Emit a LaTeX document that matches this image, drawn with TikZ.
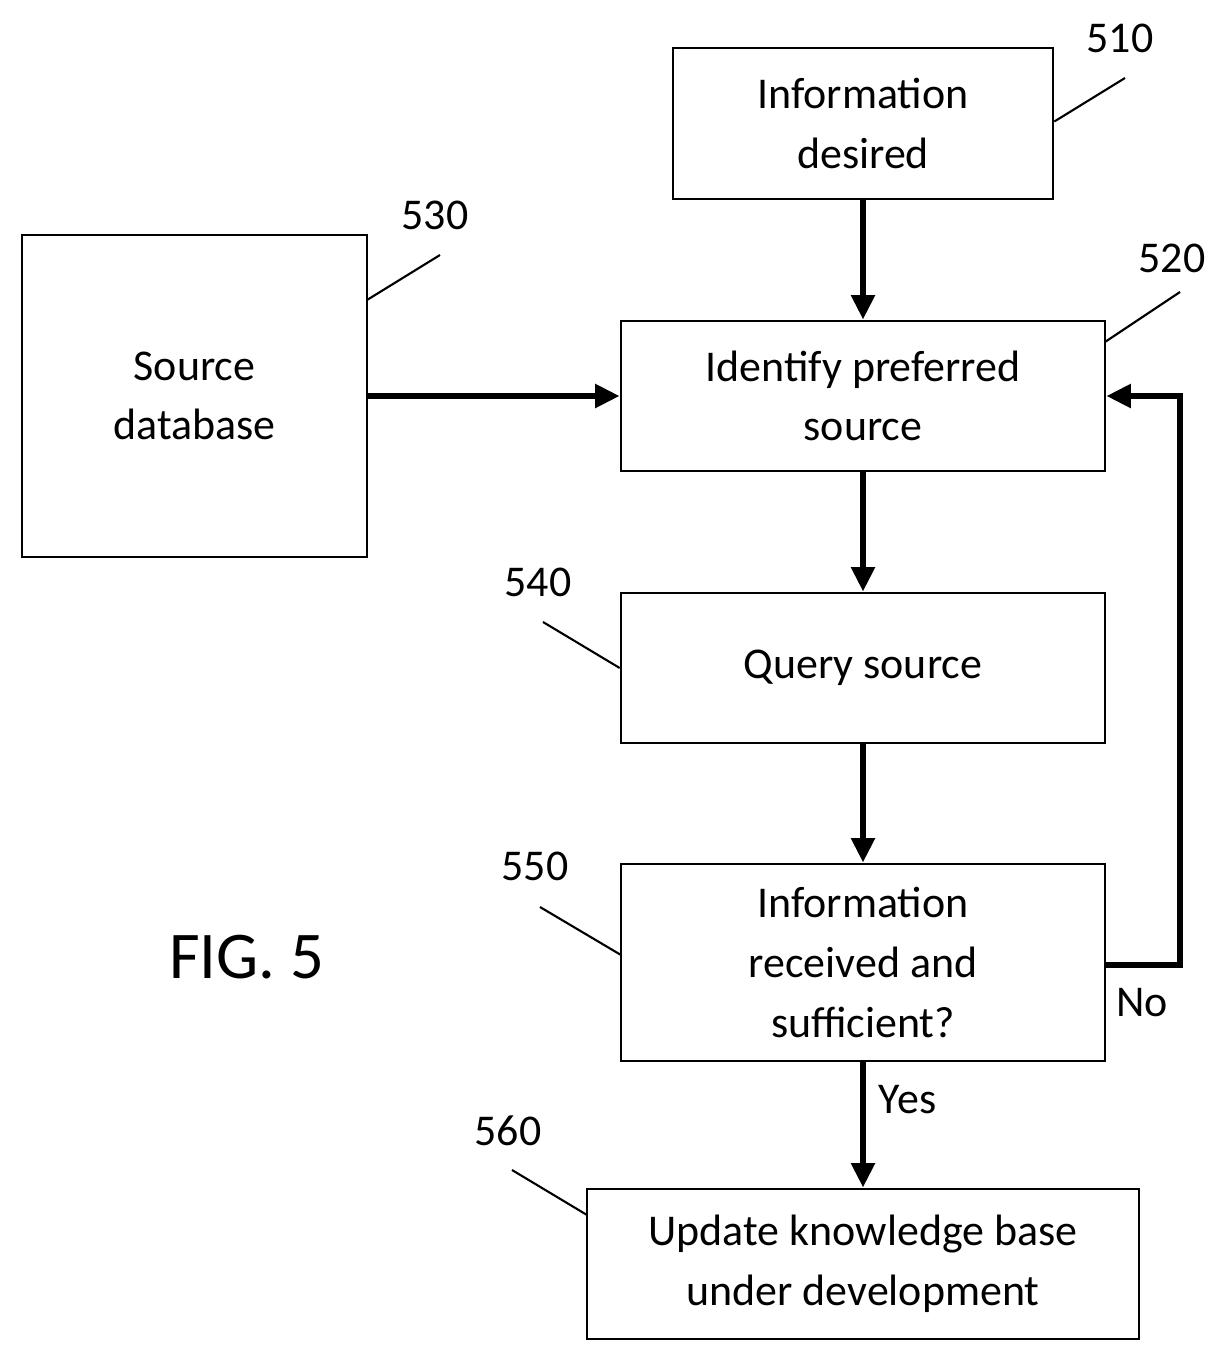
\documentclass[tikz,border=0pt]{standalone}
\usepackage{fontspec}
\setmainfont{Carlito}
\usetikzlibrary{arrows.meta, positioning}

\begin{document}
\begin{tikzpicture}[x=0.02cm, y=-0.02cm,
    box/.style={draw, line width=1.6pt, align=center, font=\fontsize{25}{34}\selectfont, inner sep=0pt},
    flow/.style={-{Triangle[length=14pt,width=13pt]}, line width=3.4pt},
    refnum/.style={font=\fontsize{25}{30}\selectfont},
    lead/.style={line width=1.2pt}]
    \useasboundingbox (0,0) rectangle (1230,1363);

    \node[box, minimum width=7.6cm, minimum height=3.02cm] (info) at (863,123.5) {Information\\desired};
    \node[box, minimum width=9.68cm, minimum height=3cm] (ident) at (863,396) {Identify preferred\\source};
    \node[box, minimum width=6.9cm, minimum height=6.44cm] (db) at (194.5,396) {Source\\database};
    \node[box, minimum width=9.68cm, minimum height=3cm] (query) at (863,668) {Query source};
    \node[box, minimum width=9.68cm, minimum height=3.94cm] (check) at (863,962.5) {Information\\received and\\sufficient?};
    \node[box, minimum width=11.04cm, minimum height=3cm] (update) at (863,1264) {Update knowledge base\\under development};

    \node[font=\fontsize{38}{44}\selectfont] (fig) at (247,957) {FIG. 5};

    % reference numerals
    \node[refnum] (n510) at (1120,38) {510};
    \node[refnum] (n520) at (1172,258) {520};
    \node[refnum] (n530) at (435,215) {530};
    \node[refnum] (n540) at (538,582) {540};
    \node[refnum] (n550) at (535,866) {550};
    \node[refnum] (n560) at (508,1131) {560};
    \draw[lead] (info.east) ++(0,-2) -- (1125,78);
    \draw[lead] (1105,342) -- (1180,292);
    \draw[lead] (367,300) -- (440,255);
    \draw[lead] (query.west) -- (543,622);
    \draw[lead] (621,955) -- (540,907);
    \draw[lead] (587,1215) -- (512,1170);

    % flow
    \draw[flow] (info) -- (ident);
    \draw[flow] (db) -- (ident);
    \draw[flow] (ident) -- (query);
    \draw[flow] (query) -- (check);
    \draw[flow] (check) -- node[pos=0.3, right=4pt, font=\fontsize{25}{30}\selectfont] {Yes} (update);
    \draw[flow] (check.east |- 0,965) -- (1180,965) -- (1180,396) -- (ident.east);
    \node[font=\fontsize{25}{30}\selectfont] at (1142,1003) {No};
\end{tikzpicture}
\end{document}
